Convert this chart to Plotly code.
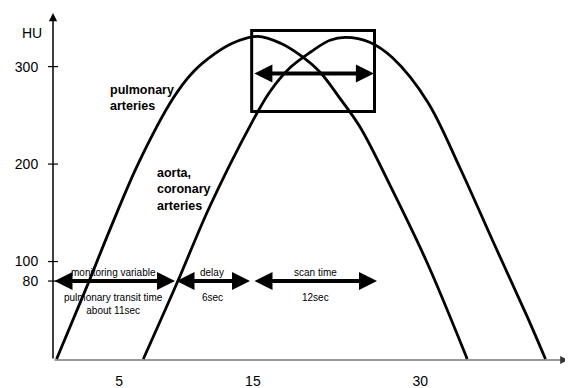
import plotly.graph_objects as go

# ---- data ----
pulm_x = [-0.2, 2.3, 4.2, 6.6, 9.5, 11.1, 12.8, 14.4, 16.5, 18.4, 20.0, 21.7, 23.3, 25.0, 27.7, 30.6, 33.9]
pulm_y = [0, 74, 132, 201, 268, 294, 312, 324, 331, 324, 312, 294, 268, 238, 173, 98, 0]

aorta_x = [7.0, 9.8, 12.5, 15.9, 17.5, 19.2, 20.9, 22.5, 23.8, 25.8, 27.7, 30.6, 33.3, 36.1, 38.9, 40.4]
aorta_y = [0, 78, 156, 240, 274, 299, 315, 327, 330, 325, 309, 264, 196, 119, 43, 0]

x_tick_vals = [5, 16.1, 30]
x_tick_text = ["5", "15", "30"]
y_tick_vals = [80, 100, 200, 300]
y_tick_text = ["80", "100", "200", "300"]

# phase arrows at 80 HU: (start, end, label above, label below)
phase_start = [-0.5, 9.63, 16.11]
phase_end = [9.63, 15.86, 26.41]
phase_level = 80
phase_top = ["monitoring variable", "delay", "scan time"]
phase_bottom = ["pulmonary transit time<br>about 11sec", "6sec", "12sec"]

# scan window box
box_x = [16.0, 26.2]
box_y = [254, 337]
box_arrow_y = 293

X_RANGE = [-0.5, 42.27]
Y_RANGE = [-1, 355]

FONT = "Liberation Sans, Arial, sans-serif"
NARROW = "Liberation Sans Narrow, Arial Narrow, Liberation Sans, sans-serif"

fig = go.Figure()
for xs, ys in [(pulm_x, pulm_y), (aorta_x, aorta_y)]:
    fig.add_trace(go.Scatter(x=xs, y=ys, mode="lines",
                             line=dict(color="black", width=2.8, shape="spline", smoothing=1.0),
                             hoverinfo="skip", showlegend=False))

ann = []
# axes with arrowheads
ann.append(dict(x=X_RANGE[0], y=Y_RANGE[1], ax=X_RANGE[0], ay=Y_RANGE[0],
                xref="x", yref="y", axref="x", ayref="y", text="", showarrow=True,
                arrowhead=2, arrowwidth=1.5, arrowsize=1.1, arrowcolor="black"))
ann.append(dict(x=X_RANGE[1], y=Y_RANGE[0], ax=X_RANGE[0], ay=Y_RANGE[0],
                xref="x", yref="y", axref="x", ayref="y", text="", showarrow=True,
                arrowhead=2, arrowwidth=1.2, arrowsize=1.3, arrowcolor="#333"))

# phase double arrows
for s, e, t1, t2 in zip(phase_start, phase_end, phase_top, phase_bottom):
    ann.append(dict(x=e, y=phase_level, ax=s, ay=phase_level,
                    xref="x", yref="y", axref="x", ayref="y", text="", showarrow=True,
                    arrowhead=2, startarrowhead=2, arrowside="end+start",
                    arrowwidth=4, arrowsize=0.9, startarrowsize=0.9, arrowcolor="black"))
    mid = (s + e) / 2
    ann.append(dict(x=mid, y=phase_level, yshift=9, xref="x", yref="y", text=t1,
                    showarrow=False, font=dict(family=NARROW, size=10, color="black"),
                    xanchor="center", yanchor="middle"))
    ann.append(dict(x=mid, y=phase_level, yshift=-9, xref="x", yref="y", text=t2,
                    showarrow=False, font=dict(family=NARROW, size=10, color="black"),
                    xanchor="center", yanchor="top"))

# double arrow inside box
ann.append(dict(x=box_x[1] - 0.05, y=box_arrow_y, ax=box_x[0] + 0.1, ay=box_arrow_y,
                xref="x", yref="y", axref="x", ayref="y", text="", showarrow=True,
                arrowhead=2, startarrowhead=2, arrowside="end+start",
                arrowwidth=4, arrowsize=0.9, startarrowsize=0.9, arrowcolor="black"))

# curve labels
ann.append(dict(x=4.07, y=268, xref="x", yref="y", text="<b>pulmonary<br>arteries</b>",
                showarrow=False, xanchor="left", align="left",
                font=dict(family=FONT, size=12.5, color="black")))
ann.append(dict(x=7.97, y=174, xref="x", yref="y", text="<b>aorta,<br>coronary<br>arteries</b>",
                showarrow=False, xanchor="left", align="left",
                font=dict(family=FONT, size=12.5, color="black")))

# axis titles
ann.append(dict(x=-0.041, y=334, xref="paper", yref="y", text="HU", showarrow=False,
                xanchor="center", font=dict(family=FONT, size=14, color="black")))
ann.append(dict(x=41.8, y=-20.5, xref="x", yref="y", text="sec", showarrow=False,
                xanchor="center", font=dict(family=FONT, size=13, color="black")))

shapes = [dict(type="rect", xref="x", yref="y", x0=box_x[0], x1=box_x[1], y0=box_y[0], y1=box_y[1],
               line=dict(color="black", width=3))]
for v in y_tick_vals:
    shapes.append(dict(type="line", xref="paper", yref="y", x0=-0.0097, x1=0.0097, y0=v, y1=v,
                       line=dict(color="black", width=1.2)))

# the page body adds an 8px offset, so the figure is 8px smaller and margins shifted
fig.update_layout(
    width=565, height=380,
    margin=dict(l=45, r=5, t=5, b=28, autoexpand=False),
    paper_bgcolor="white", plot_bgcolor="white",
    annotations=ann, shapes=shapes,
    font=dict(family=FONT, size=14, color="black"),
    xaxis=dict(range=X_RANGE, showgrid=False, zeroline=False, showline=False, automargin=False,
               tickmode="array", tickvals=x_tick_vals, ticktext=x_tick_text,
               ticks="outside", ticklen=8, tickcolor="rgba(0,0,0,0)",
               tickfont=dict(family=FONT, size=14, color="black")),
    yaxis=dict(range=Y_RANGE, showgrid=False, zeroline=False, showline=False, automargin=False,
               tickmode="array", tickvals=y_tick_vals, ticktext=y_tick_text,
               ticks="outside", ticklen=11, tickcolor="rgba(0,0,0,0)",
               tickfont=dict(family=FONT, size=14, color="black")),
)

fig.write_html("out.html")
